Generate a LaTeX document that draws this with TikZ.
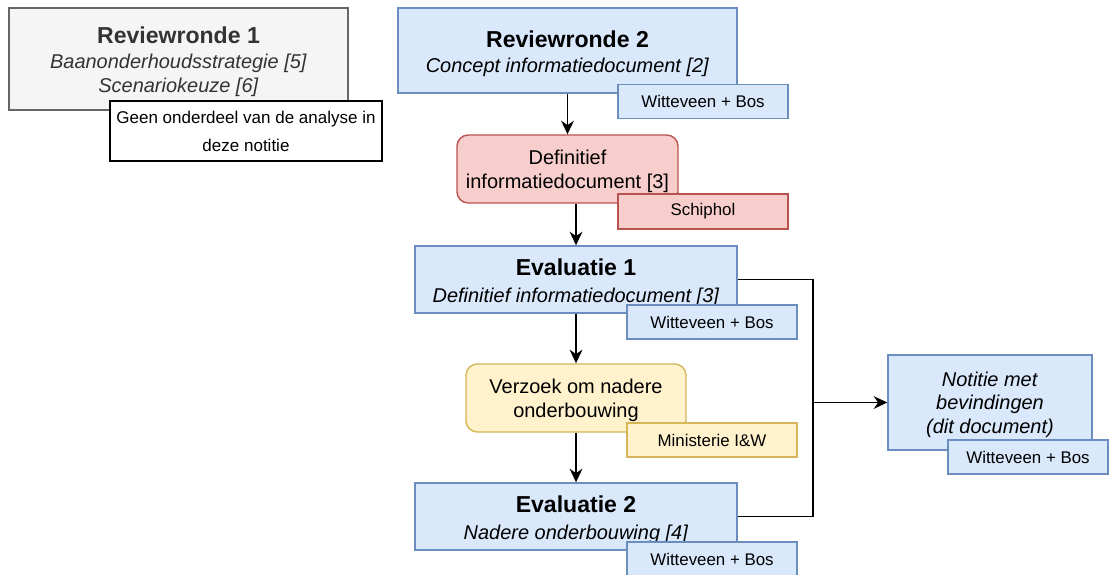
\documentclass[tikz,border=0pt]{standalone}
\usepackage{fontspec}
\setmainfont{Liberation Sans}
\usepackage{tikz}
\usetikzlibrary{positioning}
\usetikzlibrary{shapes,arrows.meta}
\definecolor{blauwvul}{HTML}{DAE8FC}
\definecolor{blauwrand}{HTML}{6C8EBF}
\definecolor{roodvul}{HTML}{F8CECC}
\definecolor{roodrand}{HTML}{B85450}
\definecolor{geelvul}{HTML}{FFF2CC}
\definecolor{geelrand}{HTML}{D6B656}
\definecolor{grijsvul}{HTML}{F5F5F5}
\definecolor{grijsrand}{HTML}{666666}
\definecolor{grijstekst}{HTML}{333333}
\newcommand{\titel}{\fontsize{16.4}{19}\selectfont\bfseries\rule{0pt}{16pt}}
\newcommand{\boven}{\rule{0pt}{13.5pt}}
\tikzstyle{blok} = [rectangle, draw=blauwrand, fill=blauwvul, line width=1pt,
    align=center, inner sep=0pt, font=\fontsize{14.2}{17}\selectfont]
\tikzstyle{grijsblok} = [blok, draw=grijsrand, fill=grijsvul, text=grijstekst]
\tikzstyle{stap} = [blok, rounded corners=8pt, minimum width=5.5cm, minimum height=1.7cm]
\tikzstyle{partij} = [blok, minimum width=4.25cm, minimum height=0.85cm,
    font=\fontsize{12}{14}\selectfont]
\tikzstyle{pijl} = [draw, line width=1.1pt, -{Stealth[length=3.4mm, width=3.2mm]}]
\tikzstyle{verbinding} = [draw, line width=1.1pt]

\begin{document}
\begin{tikzpicture}[x=0.025cm, y=-0.025cm]
    \useasboundingbox (0,0) rectangle (1109,574);
        % Nodes
    \node [grijsblok, minimum width=8.475cm, minimum height=2.55cm] (rw1) at (178.5,59)
        {{\titel Reviewronde 1}\\[1pt] \textit{Baanonderhoudsstrategie [5]}\\ \textit{Scenariokeuze [6]}};
    \node [blok, draw=black, fill=white, line width=0.8pt, minimum width=6.8cm, minimum height=1.5cm,
        font=\fontsize{12.1}{20}\selectfont] (geen) at (246,131) {Geen onderdeel van de analyse in\\ deze notitie};
    \node [blok, minimum width=8.475cm, minimum height=2.125cm] (rw2) at (567.5,50.5)
        {{\titel Reviewronde 2}\\[1pt] \textit{Concept informatiedocument [2]}};
    \node [partij] (wb1) at (703,101.5) {Witteveen + Bos};
    \node [stap, draw=roodrand, fill=roodvul, minimum width=5.525cm] (def) at (567.5,169)
        {\boven Definitief\\ informatiedocument [3]};
    \node [partij, draw=roodrand, fill=roodvul, minimum height=0.875cm] (schiphol) at (703,211.5) {Schiphol};
    \node [blok, minimum width=8.05cm, minimum height=1.675cm] (ev1) at (576,279.5)
        {{\titel Evaluatie 1}\\[2pt] \textit{Definitief informatiedocument [3]}};
    \node [partij] (wb2) at (712,322) {Witteveen + Bos};
    \node [stap, draw=geelrand, fill=geelvul] (verz) at (576,398)
        {\boven Verzoek om nadere\\ onderbouwing};
    \node [partij, draw=geelrand, fill=geelvul] (min) at (712,440) {Ministerie I\&W};
    \node [blok, minimum width=8.05cm, minimum height=1.675cm] (ev2) at (576,516.5)
        {{\titel Evaluatie 2}\\[2pt] \textit{Nadere onderbouwing [4]}};
    \node [partij] (wb3) at (712,559) {Witteveen + Bos};
    \node [blok, minimum width=5.1cm, minimum height=2.375cm] (notitie) at (990,402.5)
        {\boven\textit{Notitie met}\\ \textit{bevindingen}\\ \textit{(dit document)}};
    \node [partij, minimum width=4cm] (wb4) at (1028,457) {Witteveen + Bos};
    \coordinate (knoop) at (813,402.5);
        % Edges
    \path [pijl] (rw2) -- (def);
    \path [pijl] (def.south -| ev1.north) -- (ev1.north);
    \path [pijl] (ev1) -- (verz);
    \path [pijl] (verz) -- (ev2);
    \path [verbinding] (ev1.east) -| (knoop);
    \path [verbinding] (ev2.east) -| (knoop);
    \path [pijl] (knoop) -- (notitie.west);
\end{tikzpicture}
\end{document}
